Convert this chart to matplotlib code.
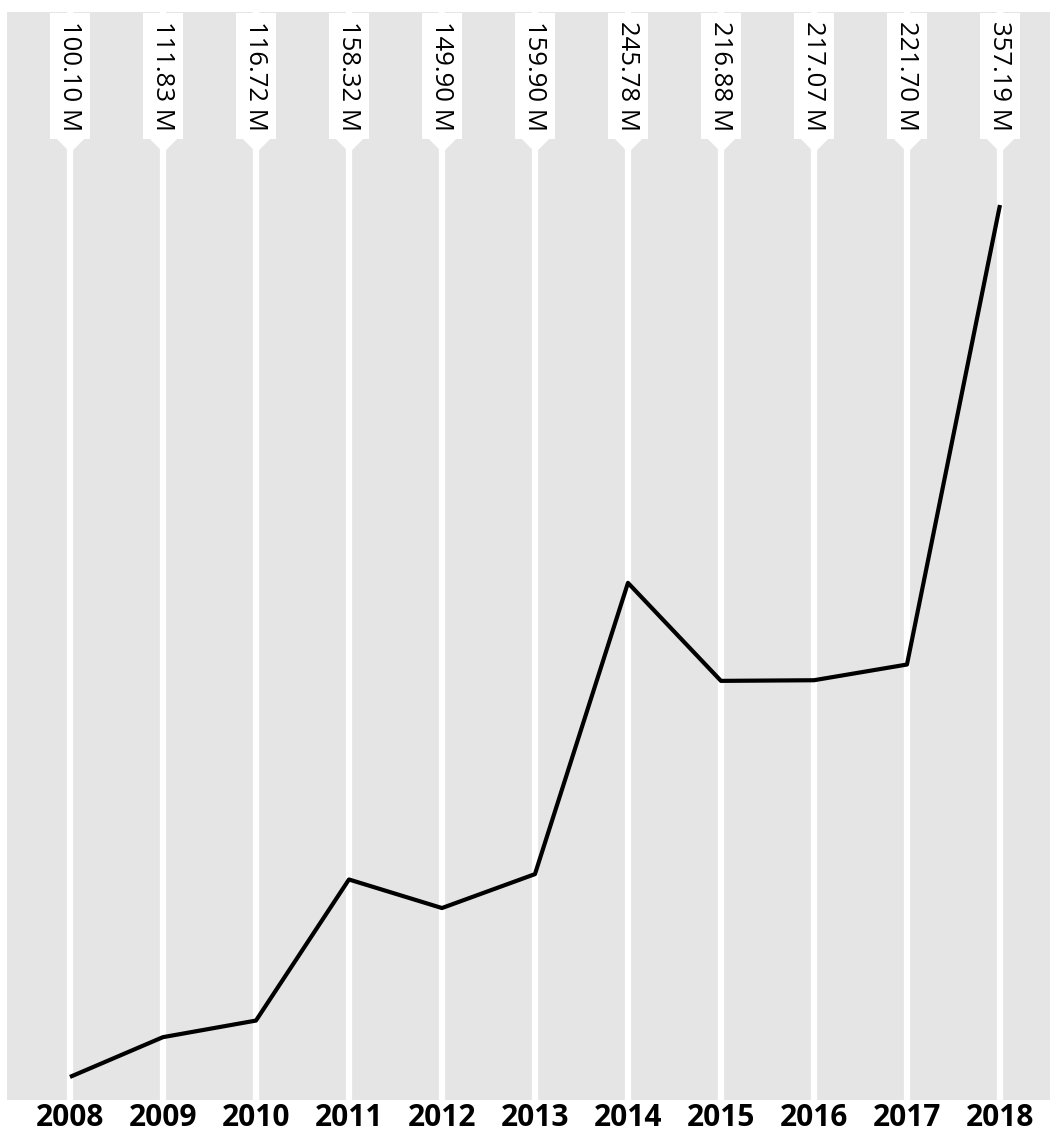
import matplotlib
matplotlib.use("Agg")
import matplotlib.pyplot as plt
import matplotlib.transforms as mtransforms

plt.rcParams['font.family'] = ['Open Sans', 'DejaVu Sans']

years = [2008, 2009, 2010, 2011, 2012, 2013, 2014, 2015, 2016, 2017, 2018]
values = [100.10, 111.83, 116.72, 158.32, 149.90, 159.90, 245.78, 216.88, 217.07, 221.70, 357.19]
labels = ["100.10 M", "111.83 M", "116.72 M", "158.32 M", "149.90 M", "159.90 M",
          "245.78 M", "216.88 M", "217.07 M", "221.70 M", "357.19 M"]

W, H = 1053, 1133
fig = plt.figure(figsize=(W / 100, H / 100), dpi=100)
ax = fig.add_axes([7 / W, 33 / H, 1043 / W, 1088 / H])
ax.set_facecolor("#e5e5e5")
for s in ax.spines.values():
    s.set_visible(False)

ax.set_xlim(2007.323, 2018.538)
ax.set_ylim(93.3, 414.1)

# white vertical guides
for yr in years:
    ax.axvline(yr, color="white", lw=4.5, zorder=1)

ax.plot(years, values, color="black", lw=3, zorder=3, solid_capstyle="butt")

# value labels with pointer at top
trans = mtransforms.blended_transform_factory(ax.transData, ax.transAxes)
top_txt = 1 - 9 / 1088
box_bottom = 1 - 127 / 1088
for yr, lab in zip(years, labels):
    ax.text(yr, top_txt, lab, transform=trans, rotation=-90, ha="center", va="top",
            fontsize=18.5, color="black", zorder=5,
            bbox=dict(boxstyle="square,pad=0.3", fc="white", ec="none"))
ax.plot(years, [box_bottom] * len(years), transform=trans, linestyle="none",
        marker=[(-1, 0.3), (1, 0.3), (1, 0), (0, -1), (-1, 0)], markersize=19,
        color="white", markeredgewidth=0, zorder=4, clip_on=False)

ax.set_yticks([])
ax.set_xticks(years)
ax.set_xticklabels([str(y) for y in years], fontsize=21.5, fontweight="bold")
ax.tick_params(axis="x", length=0, pad=2)

fig.savefig("out.png", dpi=100, facecolor="white")
